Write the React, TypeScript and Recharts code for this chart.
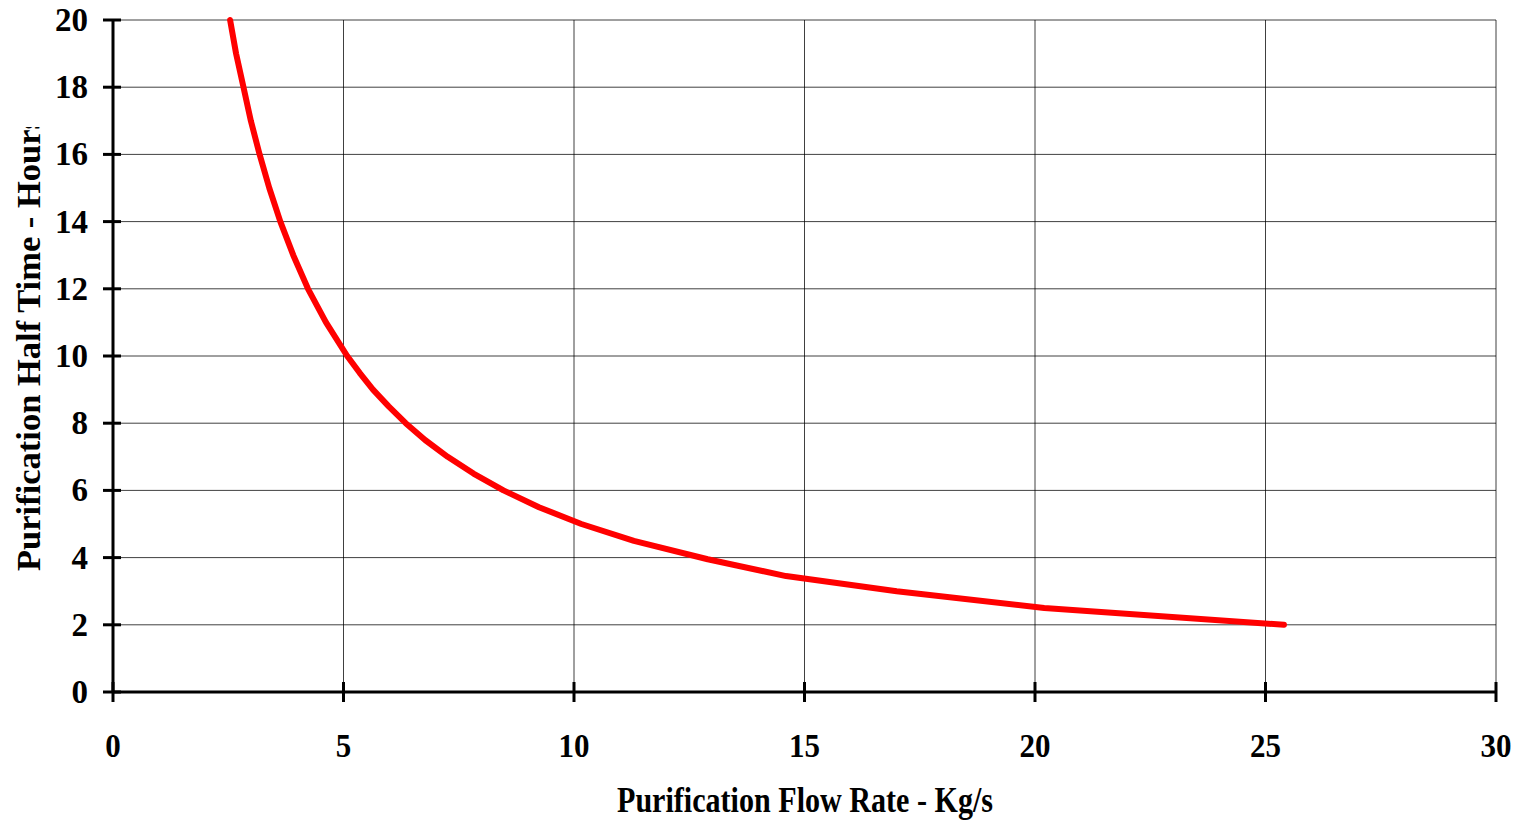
import React from 'react'
import {
  LineChart,
  Line,
  XAxis,
  YAxis,
  CartesianGrid,
  Label,
} from 'recharts'

// values
const flowRate = [2.54, 2.67, 2.83, 2.99, 3.18, 3.39, 3.63, 3.91, 4.23, 4.62, 5.08, 5.35, 5.64, 5.98, 6.35, 6.77, 7.26, 7.82, 8.47, 9.24, 10.16, 11.3, 12.9, 14.6, 17.0, 20.2, 25.4]
const halfTime = [20, 19, 18, 17, 16, 15, 14, 13, 12, 11, 10, 9.5, 9, 8.5, 8, 7.5, 7, 6.5, 6, 5.5, 5, 4.5, 3.95, 3.45, 3, 2.5, 2]
const xTicks = [0, 5, 10, 15, 20, 25, 30]
const yTicks = [0, 2, 4, 6, 8, 10, 12, 14, 16, 18, 20]

const data = flowRate.map((x, i) => ({ flow: x, time: halfTime[i] }))

const FONT = '"Liberation Serif", "Times New Roman", serif'

const YTick = (props: any) => {
  const { x, y, payload } = props
  const label = String(payload.value)
  return (
    <g>
      <line x1={x - 10} x2={x + 8} y1={y} y2={y} stroke="#000" strokeWidth={3} />
      <text
        x={x - 25}
        y={y + 11}
        textAnchor="end"
        textLength={label.length * 16.5}
        lengthAdjust="spacingAndGlyphs"
        fontFamily={FONT}
        fontWeight="bold"
        fontSize={34}
        fill="#000"
      >
        {label}
      </text>
    </g>
  )
}

const XTick = (props: any) => {
  const { x, y, payload } = props
  const label = String(payload.value)
  return (
    <g>
      <line x1={x} x2={x} y1={y - 10} y2={y + 10} stroke="#000" strokeWidth={3} />
      <text
        x={x}
        y={y + 65}
        textAnchor="middle"
        textLength={label.length * 15.5}
        lengthAdjust="spacingAndGlyphs"
        fontFamily={FONT}
        fontWeight="bold"
        fontSize={34}
        fill="#000"
      >
        {label}
      </text>
    </g>
  )
}

export default function App() {
  return (
    <div style={{ position: 'absolute', left: 0, top: 0, width: 1524, height: 822, background: '#fff' }}>
      <svg width={0} height={0} style={{ position: 'absolute' }}>
        <defs>
          <clipPath id="ytitleClip" clipPathUnits="userSpaceOnUse">
            <rect x={0} y={127} width={60} height={700} />
          </clipPath>
        </defs>
      </svg>
      <LineChart
        width={1524}
        height={822}
        data={data}
        margin={{ top: 20, right: 28, left: 53, bottom: 70 }}
      >
        <CartesianGrid stroke="#000" strokeWidth={1} strokeOpacity={0.75} />
        <XAxis
          type="number"
          dataKey="flow"
          domain={[0, 30]}
          ticks={xTicks}
          interval={0}
          height={60}
          tickSize={0}
          tickMargin={0}
          tickLine={false}
          axisLine={{ stroke: '#000', strokeWidth: 3 }}
          tick={<XTick />}
        >
          <Label
            content={() => (
              <text
                x={805}
                y={812}
                textAnchor="middle"
                textLength={376}
                lengthAdjust="spacingAndGlyphs"
                fontFamily={FONT}
                fontWeight="bold"
                fontSize={35}
                fill="#000"
              >
                Purification Flow Rate - Kg/s
              </text>
            )}
          />
        </XAxis>
        <YAxis
          type="number"
          domain={[0, 20]}
          ticks={yTicks}
          interval={0}
          width={60}
          tickSize={0}
          tickMargin={0}
          tickLine={false}
          axisLine={{ stroke: '#000', strokeWidth: 3 }}
          tick={<YTick />}
        >
          <Label
            content={() => (
              <g clipPath="url(#ytitleClip)">
                <text
                  x={0}
                  y={0}
                  transform="translate(40 571) rotate(-90)"
                  textAnchor="start"
                  textLength={455}
                  lengthAdjust="spacingAndGlyphs"
                  fontFamily={FONT}
                  fontWeight="bold"
                  fontSize={34}
                  fill="#000"
                >
                  Purification Half Time - Hours
                </text>
              </g>
            )}
          />
        </YAxis>
        <Line
          type="linear"
          dataKey="time"
          stroke="#ff0000"
          strokeWidth={6}
          strokeLinecap="round"
          strokeLinejoin="round"
          dot={false}
          isAnimationActive={false}
        />
      </LineChart>
    </div>
  )
}
